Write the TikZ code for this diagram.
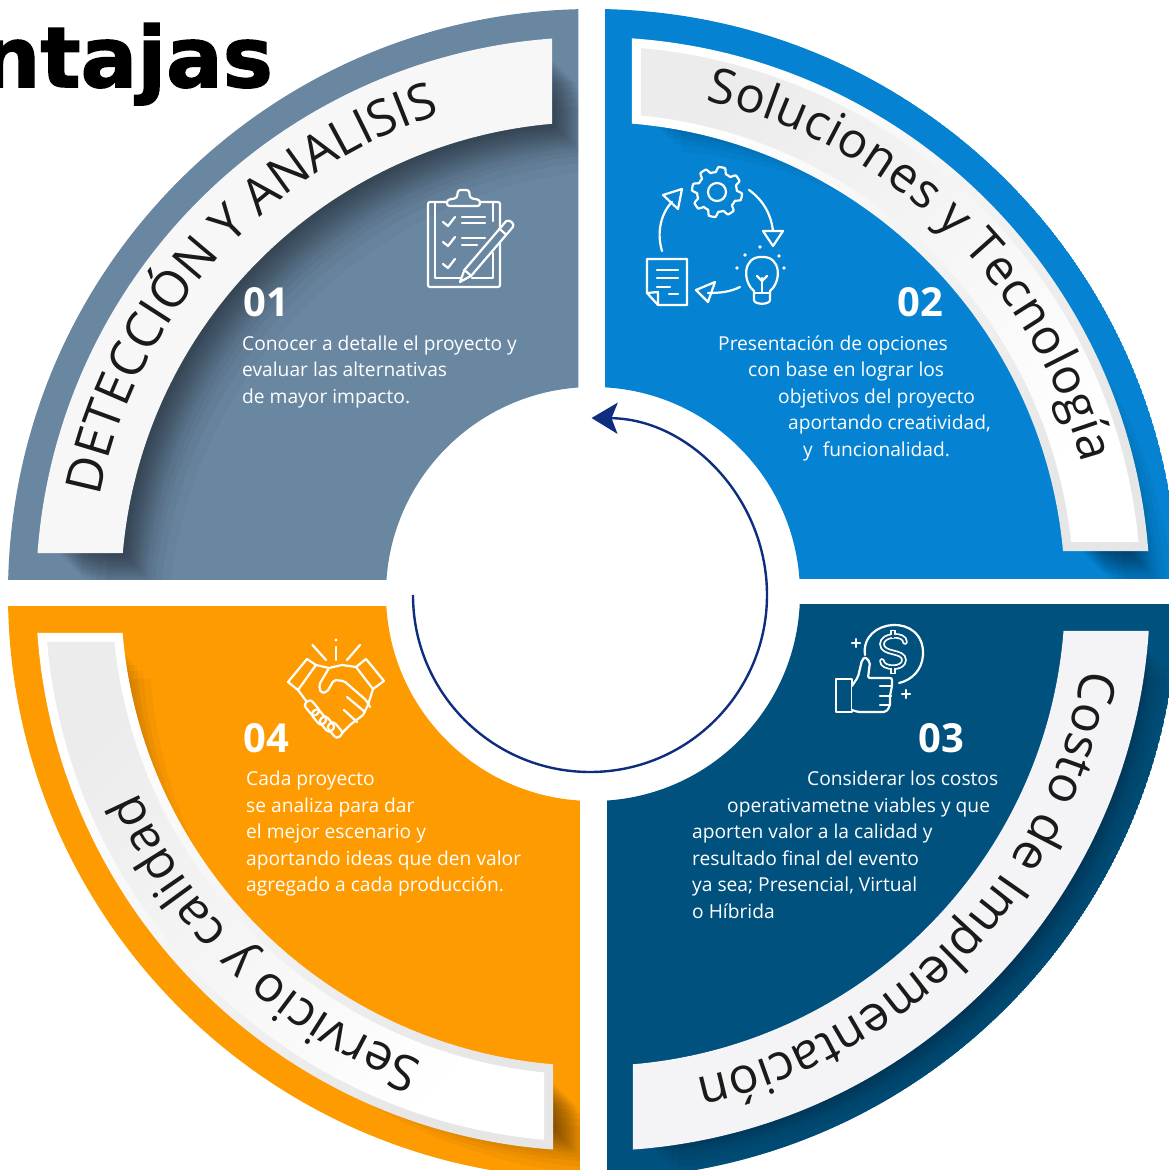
\documentclass[tikz,border=0pt]{standalone}
\usepackage{fontspec}
\setmainfont{Open Sans}
\newfontfamily\titlefont[FakeBold=1.8]{DejaVu Sans Bold}
\usetikzlibrary{decorations.text,arrows.meta}
\definecolor{steelq}{HTML}{6A87A2}
\definecolor{blueq}{HTML}{0583D2}
\definecolor{darkq}{HTML}{00517E}
\definecolor{orangeq}{HTML}{FE9B00}
\definecolor{ringc}{HTML}{0F2D7F}
\definecolor{inkc}{HTML}{1A1A1A}
\definecolor{paperw}{HTML}{F8F7F8}
\definecolor{paperg}{HTML}{E6E6E6}
\definecolor{paperm}{HTML}{ECECEC}
\definecolor{papere}{HTML}{F4F4F6}
\definecolor{paperi}{HTML}{FBFBFB}
\newcommand\qband[7]{%
  \pgfmathsetmacro\qao{#2-asin(#4/#6)}%
  \pgfmathsetmacro\qbo{#3+asin(#5/#6)}%
  \pgfmathsetmacro\qai{#2-asin(#4/#7)}%
  \pgfmathsetmacro\qbi{#3+asin(#5/#7)}%
  \path[#1] (\qao:#6pt) arc[start angle=\qao,end angle=\qbo,radius=#6pt]
    -- (\qbi:#7pt) arc[start angle=\qbi,end angle=\qai,radius=#7pt] -- cycle;}
\newcommand\qshadow[6]{\foreach \d in {2,4,...,24,28,32,38,46}{\qband{fill=black,opacity=.036,shift={(\d pt,-\d pt)}}{#1}{#2}{#3}{#4}{#5}{#6}}}
\newcommand\qfill[1]{\clip (0pt,0pt) circle[radius=585pt];\path[fill=#1,even odd rule] (0pt,0pt) circle[radius=585pt] circle[radius=207pt];}
\newcommand\bandtext[5]{\path[decorate,decoration={text along path,text format delimiters={|}{|},text={|\fontsize{#5}{#5}\selectfont\color{inkc}|#1},text align={fit to path}}] (#2:#4pt) arc[start angle=#2,end angle=#3,radius=#4pt];}
\tikzset{
  iconline/.style={draw=white,line width=2.2pt,line join=round,line cap=round},
  bodyline/.style={anchor=base west,text=white,inner sep=0pt,font=\fontsize{19.2}{19.2}\selectfont},
  numlabel/.style={anchor=base west,text=white,inner sep=0pt,font=\fontsize{40}{40}\selectfont\bfseries},
  ringarrow/.style={draw=ringc,line width=2.4pt,-{Stealth[length=26pt,width=31pt,inset=6pt]}},
  pixel/.style={shift={(-593pt,594pt)},x=1pt,y=-1pt}
}
\begin{document}
\begin{tikzpicture}
\useasboundingbox (-593pt,-576pt) rectangle (576pt,594pt);
\clip (-593pt,-576pt) rectangle (576pt,594pt);
% steel quadrant
\begin{scope}
\clip (-600pt,15pt) rectangle (-14.5pt,600pt);
\qfill{steelq}
\qshadow{180}{90}{41}{41}{537}{472}
\qband{fill=paperw}{180}{90}{41}{41}{557}{472}
\end{scope}
% blue quadrant
\begin{scope}
\clip (12pt,16pt) rectangle (600pt,600pt);
\qfill{blueq}
\qshadow{90}{0}{42}{43}{537}{490}
\qband{top color=white,bottom color=paperg,shading angle=45}{90}{0}{39}{43}{557}{472}
\qband{top color=paperm,middle color=paperi,bottom color=white,shading angle=45}{90}{0}{48}{52}{548}{481}
\end{scope}
% dark quadrant
\begin{scope}
\clip (14pt,-600pt) rectangle (600pt,-10.5pt);
\qfill{darkq}
\qshadow{0}{-90}{37}{40}{537}{472}
\qband{top color=papere,middle color=paperg,bottom color=papere,shading angle=-45}{0}{-90}{37}{40}{557}{472}
\qband{top color=papere,middle color=paperi,bottom color=papere,shading angle=-45}{0}{-90}{44}{47}{549}{480}
\end{scope}
% orange quadrant
\begin{scope}
\clip (-600pt,-600pt) rectangle (-13pt,-12pt);
\qfill{orangeq}
\qshadow{270}{180}{40}{39}{537}{490}
\qband{top color=white,bottom color=paperg,shading angle=45}{270}{180}{40}{39}{557}{472}
\qband{top color=paperm,middle color=paperi,bottom color=white,shading angle=45}{270}{180}{49}{48}{548}{481}
\end{scope}
% band texts
\bandtext{DETECCIÓN Y ANALISIS}{168.8}{108.3}{503}{50}
\bandtext{Soluciones y Tecnología}{77.1}{15}{506}{49}
\bandtext{Costo de Implementación}{-8.8}{-77.7}{495}{50}
\bandtext{Servicio y calidad}{250}{203.5}{497}{50}
% ring
\coordinate (ringstart) at (-180pt,-1pt);
\draw[ringarrow] (ringstart) arc[start angle=180,end angle=449.5,radius=177pt];
\begin{scope}[pixel]
\node[anchor=base east,inner sep=0pt,text=black,font=\titlefont\fontsize{84}{84}\selectfont] (title) at (273,87) {ntajas};
% numbers
\node[numlabel] (n1) at (243,317) {01};
\node[numlabel] (n2) at (897,317) {02};
\node[numlabel] (n3) at (918,752) {03};
\node[numlabel] (n4) at (243,752) {04};
% Q1 text
\node[bodyline] (a1) at (242,351) {Conocer a detalle el proyecto y};
\node[bodyline] (a2) at (242,377) {evaluar las alternativas};
\node[bodyline] (a3) at (242,404) {de mayor impacto.};
% Q2 text
\node[bodyline] (b1) at (718,351) {Presentación de opciones};
\node[bodyline] (b2) at (748,377) {con base en lograr los};
\node[bodyline] (b3) at (778,404) {objetivos del proyecto};
\node[bodyline] (b4) at (788,430) {aportando creatividad,};
\node[bodyline] (b5) at (803,457) {y \ funcionalidad.};
% Q3 text
\node[bodyline] (c1) at (807,785) {Considerar los costos};
\node[bodyline] (c2) at (727,812) {operativametne viables y que};
\node[bodyline] (c3) at (692,838) {aporten valor a la calidad y};
\node[bodyline] (c4) at (692,865) {resultado final del evento};
\node[bodyline] (c5) at (692,891) {ya sea; Presencial, Virtual};
\node[bodyline] (c6) at (692,918) {o Híbrida};
% Q4 text
\node[bodyline] (d1) at (246,785) {Cada proyecto};
\node[bodyline] (d2) at (246,812) {se analiza para dar};
\node[bodyline] (d3) at (246,838) {el mejor escenario y};
\node[bodyline] (d4) at (246,865) {aportando ideas que den valor};
\node[bodyline] (d5) at (246,891) {agregado a cada producción.};
% clipboard icon
\draw[iconline,rounded corners=2pt] (428,202) rectangle (500,287);
\draw[iconline] (435,202) -- (435,278) -- (462,278);
\draw[iconline] (493,253) -- (493,278) -- (472,278);
\draw[iconline] (493,202) -- (493,221);
\draw[iconline,fill=steelq,rounded corners=2.5pt] (447,206) -- (447,200) -- (457,198) -- (458,190) -- (469,190) -- (470,198) -- (480,200) -- (480,206) -- cycle;
\foreach \dy in {0,20,42}{\draw[iconline] (443,222+\dy) -- (448,226+\dy) -- (455,217+\dy);}
\draw[iconline] (462,217) -- (485,217);
\draw[iconline] (462,223) -- (485,223);
\draw[iconline] (462,238) -- (485,238);
\draw[iconline] (462,245) -- (477,245);
\draw[iconline,fill=steelq] (460,282) -- (464.4,270) -- (506,221.3) .. controls (509,218.5) and (515.5,224) .. (512.8,227.1) -- (471.2,275.8) -- cycle;
\draw[iconline] (464.4,270) -- (471.2,275.8);
\draw[iconline] (499.5,228.9) -- (506.3,234.7);
% cycle icon
\draw[iconline] plot[domain=0:360,samples=193,smooth,variable=\t] ({717+(22.5+2.6*max(-1,min(1,2.2*sin(8*\t))))*cos(\t)},{192+(22.5+2.6*max(-1,min(1,2.2*sin(8*\t))))*sin(\t)}) -- cycle;
\draw[iconline] (717,192) circle[radius=9pt];
\draw[iconline] (749,190) .. controls (763,200) and (771,214) .. (773,231);
\draw[iconline] (763,231) -- (783,231) -- (773,246) -- cycle;
\draw[iconline] (662,251) .. controls (656,231) and (662,212) .. (672,202);
\draw[iconline] (663,195) -- (682,189) -- (678,209) -- cycle;
\draw[iconline] (740,287) .. controls (730,292) and (720,293) .. (708,293);
\draw[iconline] (696,290) -- (715,282) -- (708,302) -- cycle;
\draw[iconline] (647,259) -- (687,259) -- (687,305) -- (658,305) -- (647,293) -- cycle;
\draw[iconline] (647,293) -- (658,292) -- (658,305);
\draw[iconline] (657,270) -- (678,270);
\draw[iconline] (657,278) -- (678,278);
\draw[iconline] (657,287) -- (670,287);
\draw[iconline] (669,294) -- (678,294);
\draw[iconline] (754,291) .. controls (742,281) and (743,256) .. (762,257) .. controls (781,256) and (782,281) .. (770,291) -- (770,300) .. controls (770,305) and (754,305) .. (754,300) -- cycle;
\draw[iconline] (754,293) -- (770,293);
\draw[iconline] (762,293) -- (762,278);
\draw[iconline] (757,276) -- (762,281) -- (767,276);
\foreach \rx/\ry in {760/247,745/255,779/256,737/268,784/268}{\fill[white] (\rx,\ry) circle[radius=1.8pt];}
% handshake icon
\fill[white] (336,640) circle[radius=1.7pt];
\draw[iconline] (336,647) -- (336,660);
\draw[iconline] (312.5,645) -- (326,660);
\draw[iconline] (360,645) -- (347,660);
\draw[iconline] (307,659) -- (288,682) -- (298,690) -- (316,665) -- cycle;
\draw[iconline] (366,659) -- (384,681) -- (373,689) -- (356,667) -- cycle;
\draw[iconline] (316,665) -- (329,668) -- (342,665) -- (356,667);
\draw[iconline,rounded corners=2pt] (329,668) -- (319,685) -- (321,693) -- (327,692) -- (334,680) -- (344,681) -- (366,700) -- (370,707);
\draw[iconline] (373,689) -- (368,705) -- (363,715) -- (350,725) -- (342,733);
\draw[iconline] (298,690) -- (307,702);
\foreach \fx/\fy in {312/708,319/717,327/724,335/730}{\draw[iconline,rotate around={-50:(\fx,\fy)},rounded corners=3.5pt] (\fx-8,\fy-4.5) rectangle (\fx+8,\fy+4.5);}
\draw[iconline] (347,697) -- (365,712);
\draw[iconline] (344,710) -- (357,722);
% coin and thumb icon
\draw[iconline] (865,655) .. controls (860,618) and (925,612) .. (923,655) .. controls (922,670) and (912,680) .. (899,683);
\draw[white,line width=5.5pt,line cap=round] (905,642) .. controls (905,633) and (882,634) .. (882,644) .. controls (882,655) and (904,650) .. (904,660) .. controls (904,670) and (882,669) .. (882,661);
\draw[white,line width=5.5pt] (893,630) -- (893,638);
\draw[white,line width=5.5pt] (893,667) -- (893,674);
\draw[darkq,line width=2pt,line cap=round] (905,642) .. controls (905,633) and (882,634) .. (882,644) .. controls (882,655) and (904,650) .. (904,660) .. controls (904,670) and (882,669) .. (882,661);
\draw[darkq,line width=2pt] (893,631) -- (893,638);
\draw[darkq,line width=2pt] (893,667) -- (893,673);
\draw[iconline] (836,679) rectangle (852,712);
\draw[iconline,fill=darkq,rounded corners=2pt] (852,686) -- (858,677) -- (862,660) -- (865,657) -- (870,662) -- (868,678) -- (892,678) -- (892,686) -- (890,696) -- (890,706) -- (886,712) -- (858,712) -- (852,710);
\draw[iconline] (880,686) -- (892,686);
\draw[iconline] (880,696) -- (891,696);
\draw[iconline] (880,705) -- (890,705);
\draw[iconline] (856,639) -- (856,647);
\draw[iconline] (852,643) -- (860,643);
\draw[iconline] (906,690) -- (906,698);
\draw[iconline] (902,694) -- (910,694);
\end{scope}
\end{tikzpicture}
\end{document}
